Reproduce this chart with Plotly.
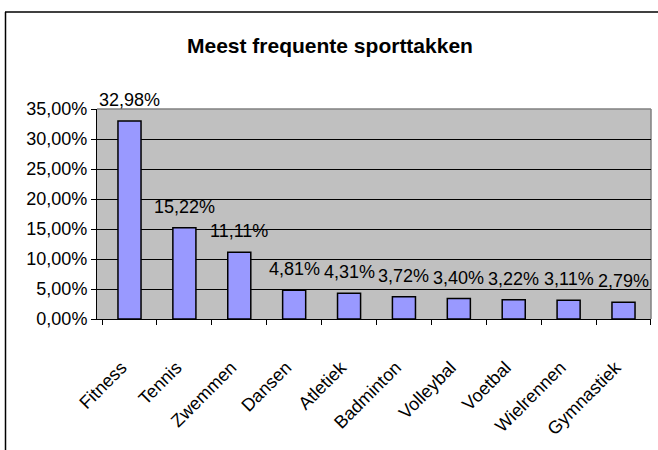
import plotly.graph_objects as go

categories = ["Fitness", "Tennis", "Zwemmen", "Dansen", "Atletiek", "Badminton",
              "Volleybal", "Voetbal", "Wielrennen", "Gymnastiek"]
values = [0.3298, 0.1522, 0.1111, 0.0481, 0.0431, 0.0372, 0.0340, 0.0322, 0.0311, 0.0279]
y_ticks = [0, 0.05, 0.10, 0.15, 0.20, 0.25, 0.30, 0.35]
title_text = "Meest frequente sporttakken"

W, H = 658, 450
ML, MR, MT, MB = 97, 7, 109, 131
PW = W - ML - MR
PH = H - MT - MB

FONT = "Liberation Sans, Arial, sans-serif"
FS = 18

fig = go.Figure()
fig.add_trace(go.Bar(
    x=categories, y=values,
    marker=dict(color="#9999FF", line=dict(color="black", width=1.5)),
    hoverinfo="skip",
))

def px_x(p):
    return (p - ML) / PW

def px_y(p):
    return 1 - (p - MT) / PH

annotations = []
for c, v in zip(categories, values):
    label = f"{v*100:.2f}".replace(".", ",") + "%"
    annotations.append(dict(x=c, y=v, xref="x", yref="y", text=label, showarrow=False,
                            yanchor="middle", yshift=21,
                            font=dict(family=FONT, size=FS, color="black")))
annotations.append(dict(x=px_x(330), y=px_y(45), xref="paper", yref="paper",
                        text=f"<b>{title_text}</b>", showarrow=False,
                        xanchor="center", yanchor="middle",
                        font=dict(family=FONT, size=21, color="black")))

shapes = [
    dict(type="line", xref="paper", yref="paper", x0=px_x(5.5), x1=px_x(5.5),
         y0=px_y(12), y1=px_y(460), line=dict(color="black", width=1.5)),
    dict(type="line", xref="paper", yref="paper", x0=px_x(5), x1=px_x(670),
         y0=px_y(12), y1=px_y(12), line=dict(color="black", width=1.5)),
    dict(type="line", xref="paper", yref="paper", x0=0, x1=1, y0=1, y1=1,
         line=dict(color="#808080", width=1.5), layer="below"),
    dict(type="line", xref="paper", yref="paper", x0=1, x1=1, y0=0, y1=1,
         line=dict(color="#808080", width=1.5), layer="below"),
]

fig.update_layout(
    width=W, height=H,
    margin=dict(l=ML, r=MR, t=MT, b=MB, autoexpand=False),
    paper_bgcolor="white", plot_bgcolor="#C0C0C0",
    separators=",.",
    showlegend=False,
    bargap=0.58,
    annotations=annotations,
    shapes=shapes,
    font=dict(family=FONT, size=FS, color="black"),
    xaxis=dict(
        type="category", showgrid=False, zeroline=False,
        showline=True, linecolor="black", linewidth=1,
        ticks="outside", tickson="boundaries", ticklen=5, tickcolor="black",
        tickangle=-45, ticklabelstandoff=30, ticklabelshift=-8,
        tickfont=dict(family=FONT, size=FS, color="black"),
    ),
    yaxis=dict(
        range=[0, 0.35], tickvals=y_ticks, tickformat=".2%",
        showgrid=True, gridcolor="black", gridwidth=1, zeroline=False,
        showline=True, linecolor="black", linewidth=1,
        ticks="outside", ticklen=5, tickcolor="black",
        tickfont=dict(family=FONT, size=FS, color="black"),
    ),
)

fig.write_html("out.html", config={"displayModeBar": False},
               post_script="document.body.style.margin='0px';")
